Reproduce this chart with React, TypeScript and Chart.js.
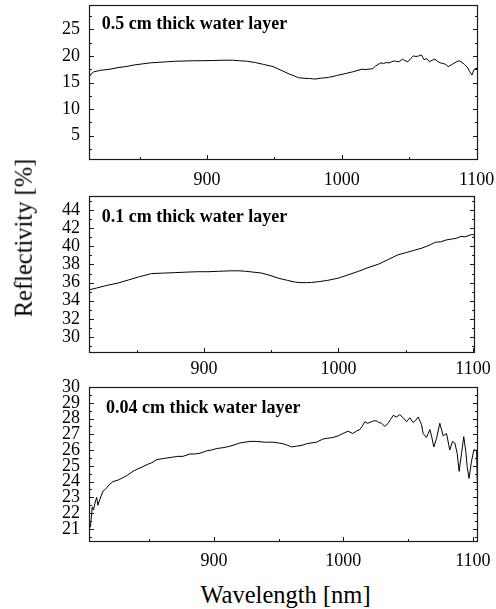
import React, { useEffect, useRef } from "react";
import { Chart, registerables } from "chart.js";
Chart.register(...registerables);

// ---------- data ----------
const panelLabels = ["0.5 cm thick water layer", "0.1 cm thick water layer", "0.04 cm thick water layer"];

const wl1 = [812.5, 814, 816, 821, 828, 834, 840, 846, 852, 858, 864, 870, 876, 883, 890, 895, 905, 912, 919, 924, 930, 936, 942, 949, 955, 961, 965, 968, 972, 976, 980, 984, 990, 996, 1003, 1008, 1012, 1015, 1018, 1021, 1023, 1025, 1027, 1029, 1031, 1033, 1035, 1037, 1039, 1041, 1043, 1045, 1047, 1049, 1051, 1053, 1055, 1057, 1059, 1061, 1063, 1065, 1067, 1069, 1071, 1073, 1075, 1077, 1079, 1081, 1083, 1085, 1087, 1089, 1091, 1093, 1095, 1096.5, 1098, 1099.5, 1101];
const refl1 = [16.0, 16.6, 17.0, 17.3, 17.5, 17.8, 18.0, 18.3, 18.5, 18.7, 18.8, 18.9, 19.0, 19.05, 19.1, 19.1, 19.15, 19.2, 19.2, 19.1, 19.0, 18.75, 18.4, 18.0, 17.3, 16.6, 16.2, 15.9, 15.8, 15.75, 15.65, 15.8, 15.95, 16.3, 16.7, 17.0, 17.3, 17.5, 17.45, 17.55, 17.6, 18.1, 18.4, 18.7, 18.6, 18.75, 18.7, 18.9, 19.1, 18.9, 19.0, 19.4, 19.1, 18.9, 19.5, 20.0, 19.9, 20.0, 20.2, 19.3, 19.5, 18.9, 19.2, 19.4, 19.0, 18.7, 18.6, 18.4, 18.0, 18.3, 18.6, 18.9, 19.1, 18.8, 18.4, 17.9, 17.0, 16.4, 17.4, 17.7, 17.4];

const wl2 = [814.5, 820, 828, 836, 844, 852, 861, 870, 878, 886, 895, 903, 911, 920, 926, 931, 937, 943, 949, 955, 962, 968, 972, 976, 980, 985, 992, 1000, 1007, 1015, 1022, 1030, 1037, 1044, 1050, 1056, 1062, 1068, 1072, 1076, 1080, 1084, 1088, 1091, 1094, 1097, 1099, 1101.5];
const refl2 = [35.2, 35.4, 35.7, 35.95, 36.3, 36.65, 37.0, 37.05, 37.1, 37.15, 37.2, 37.2, 37.25, 37.3, 37.3, 37.25, 37.15, 37.05, 36.8, 36.5, 36.25, 36.05, 36.0, 36.0, 36.02, 36.1, 36.25, 36.5, 36.85, 37.25, 37.65, 38.05, 38.55, 39.05, 39.3, 39.55, 39.8, 40.15, 40.45, 40.5, 40.7, 40.8, 40.9, 41.1, 41.05, 41.2, 41.3, 41.25];

const wl3 = [804.5, 805.2, 806, 807, 808, 809.4, 810.4, 812, 814.3, 816, 817.1, 819, 822, 826, 829.7, 833, 837.5, 841, 845.2, 849, 852, 856, 860, 863.7, 868, 872, 876, 881.5, 885, 889.2, 894.4, 898, 902.3, 907, 910, 914.7, 920, 924, 927.8, 933, 939, 945.6, 950, 953.3, 957, 960, 963.9, 968, 971.6, 975, 979.3, 984.2, 988, 991.9, 996, 999.6, 1003.5, 1007.3, 1010, 1012.7, 1014.5, 1016.6, 1018.5, 1020.5, 1023, 1025.6, 1027.5, 1029.5, 1032, 1034.6, 1036.5, 1038.5, 1041.1, 1043.6, 1046.2, 1048.8, 1051.4, 1053.9, 1056, 1057.8, 1060.4, 1061.6, 1064.2, 1066.8, 1068.1, 1069.9, 1072, 1074.5, 1077.1, 1079.7, 1082.2, 1084.3, 1086.1, 1087.9, 1089.4, 1091.3, 1093, 1094.6, 1095.6, 1097.1, 1099, 1100.8, 1102.9, 1103.3, 1103.6, 1104];
const refl3 = [21.1, 21.6, 22.4, 22.2, 22.6, 23.0, 22.5, 22.9, 23.4, 23.5, 23.6, 23.8, 24.0, 24.1, 24.25, 24.4, 24.65, 24.8, 24.95, 25.1, 25.2, 25.4, 25.45, 25.5, 25.55, 25.6, 25.6, 25.75, 25.75, 25.8, 25.95, 26.0, 26.1, 26.15, 26.2, 26.3, 26.45, 26.5, 26.55, 26.55, 26.5, 26.5, 26.45, 26.4, 26.3, 26.2, 26.25, 26.3, 26.4, 26.45, 26.5, 26.7, 26.75, 26.8, 26.9, 27.05, 27.2, 27.05, 27.2, 27.3, 27.5, 27.8, 27.7, 27.75, 27.85, 27.85, 27.75, 27.7, 27.5, 27.7, 27.95, 28.2, 28.1, 28.25, 28.05, 27.8, 28.05, 27.75, 27.9, 28.1, 27.6, 27.05, 26.8, 27.3, 26.9, 26.2, 26.75, 27.7, 26.9, 27.05, 26.0, 26.55, 26.45, 25.8, 24.65, 25.8, 26.85, 25.9, 24.95, 24.2, 25.3, 26.0, 26.0, 24.65, 23.5, 22.2];

const xTicks = [900, 1000, 1100];
const xMinor = [850, 950, 1050];
const yTicks1 = [5, 10, 15, 20, 25];
const yMinor1 = [2.5, 7.5, 12.5, 17.5, 22.5, 27.5];
const yTicks2 = [30, 32, 34, 36, 38, 40, 42, 44];
const yMinor2 = [29, 31, 33, 35, 37, 39, 41, 43, 45];
const yTicks3 = [21, 22, 23, 24, 25, 26, 27, 28, 29, 30];
const yMinor3 = [20.5, 21.5, 22.5, 23.5, 24.5, 25.5, 26.5, 27.5, 28.5, 29.5];

const SERIF = '"Liberation Serif", "Times New Roman", serif';

// ---------- layout ----------
const panels = [
  { wl: wl1, r: refl1, yT: yTicks1, yM: yMinor1, label: panelLabels[0], xMin: 812.5, xMax: 1101, yMin: 0.4, yMax: 29.6,
    top: 0, h: 192, areaTop: 5, areaBottom: 160, areaRight: 478, xPad: 9, dx: 12.7, dy: 24.3 },
  { wl: wl2, r: refl2, yT: yTicks2, yM: yMinor2, label: panelLabels[1], xMin: 814.5, xMax: 1101.5, yMin: 28.24, yMax: 45.55,
    top: 192, h: 186, areaTop: 196, areaBottom: 353, areaRight: 475, xPad: 5, dx: 12.7, dy: 26.3 },
  { wl: wl3, r: refl3, yT: yTicks3, yM: yMinor3, label: panelLabels[2], xMin: 803.5, xMax: 1104, yMin: 20.17, yMax: 30,
    top: 378, h: 197, areaTop: 387, areaBottom: 542, areaRight: 478, xPad: 8, dx: 17, dy: 25.7 },
];
const AREA_LEFT = 89;

const framePlugin = {
  id: "frame",
  afterDatasetsDraw(chart: any, _args: any, opts: any) {
    const { ctx, chartArea: a, scales } = chart;
    const xs = scales.x, ys = scales.y;
    ctx.save();
    ctx.strokeStyle = "#1a1a1a";
    ctx.lineWidth = 1.2;
    ctx.strokeRect(a.left + 0.5, a.top + 0.5, a.right - a.left - 1, a.bottom - a.top - 1);
    ctx.lineWidth = 1;
    ctx.beginPath();
    const yTick = (v: number, len: number) => {
      const p = Math.round(ys.getPixelForValue(v)) + 0.5;
      ctx.moveTo(a.left, p); ctx.lineTo(a.left + len, p);
      ctx.moveTo(a.right, p); ctx.lineTo(a.right - len, p);
    };
    const xTick = (v: number, len: number) => {
      const p = Math.round(xs.getPixelForValue(v)) + 0.5;
      ctx.moveTo(p, a.bottom); ctx.lineTo(p, a.bottom - len);
    };
    opts.yMajor.forEach((v: number) => yTick(v, 5));
    opts.yMinor.forEach((v: number) => yTick(v, 3));
    xTicks.forEach((v) => xTick(v, 5));
    xMinor.forEach((v) => xTick(v, 3));
    ctx.stroke();
    ctx.font = `bold 18px ${SERIF}`;
    ctx.fillStyle = "#000";
    ctx.textBaseline = "alphabetic";
    ctx.textAlign = "left";
    ctx.fillText(opts.text, a.left + opts.dx, a.top + opts.dy);
    ctx.restore();
  },
};

function Panel({ p }: { p: any }) {
  const ref = useRef<HTMLCanvasElement | null>(null);
  useEffect(() => {
    const canvas = ref.current!;
    const chart = new Chart(canvas, {
      type: "scatter",
      data: {
        datasets: [
          {
            data: p.wl.map((w: number, i: number) => ({ x: w, y: p.r[i] })),
            borderColor: "#000",
            borderWidth: 1,
            pointRadius: 0,
            showLine: true,
            tension: 0,
          },
        ],
      },
      options: {
        animation: false,
        responsive: false,
        devicePixelRatio: 1,
        events: [],
        layout: { padding: { top: p.areaTop - p.top, right: 496 - p.areaRight, left: 0, bottom: 0 } },
        plugins: {
          legend: { display: false },
          tooltip: { enabled: false },
          frame: { yMajor: p.yT, yMinor: p.yM, text: p.label, dx: p.dx, dy: p.dy },
        } as any,
        scales: {
          x: {
            type: "linear",
            min: p.xMin,
            max: p.xMax,
            grid: { display: false, drawTicks: false },
            border: { display: false },
            ticks: {
              autoSkip: false,
              maxRotation: 0,
              padding: p.xPad,
              color: "#000",
              font: { family: SERIF, size: 18 },
              callback: (v: any) => String(v),
            },
            afterBuildTicks: (s: any) => {
              s.ticks = xTicks.map((v) => ({ value: v }));
            },
            afterFit: (s: any) => {
              s.height = p.top + p.h - p.areaBottom;
              s.paddingLeft = 0;
              s.paddingRight = 0;
            },
          },
          y: {
            type: "linear",
            min: p.yMin,
            max: p.yMax,
            grid: { display: false, drawTicks: false },
            border: { display: false },
            ticks: {
              autoSkip: false,
              padding: 9,
              color: "#000",
              font: { family: SERIF, size: 18 },
              callback: (v: any) => String(v),
            },
            afterBuildTicks: (s: any) => {
              s.ticks = p.yT.map((v: number) => ({ value: v }));
            },
            afterFit: (s: any) => {
              s.width = AREA_LEFT;
              s.paddingTop = 0;
              s.paddingBottom = 0;
            },
          },
        },
      },
      plugins: [framePlugin as any],
    });
    return () => chart.destroy();
  }, []);
  return (
    <canvas
      ref={ref}
      width={496}
      height={p.h}
      style={{ position: "absolute", left: 0, top: p.top, width: 496, height: p.h }}
    />
  );
}

export default function App() {
  return (
    <div style={{ position: "absolute", left: 0, top: 0, width: 496, height: 609, background: "#fff", overflow: "hidden" }}>
      {panels.map((p, i) => (
        <Panel key={i} p={p} />
      ))}
      <div
        style={{
          position: "absolute",
          left: 23.5,
          top: 237.5,
          transform: "translate(-50%, -50%) rotate(-90deg)",
          fontFamily: SERIF,
          fontSize: 24.5,
          lineHeight: 1,
          whiteSpace: "nowrap",
          color: "#000",
        }}
      >
        Reflectivity [%]
      </div>
      <div
        style={{
          position: "absolute",
          left: 285.5,
          top: 595,
          transform: "translate(-50%, -50%)",
          fontFamily: SERIF,
          fontSize: 24.5,
          lineHeight: 1,
          whiteSpace: "nowrap",
          color: "#000",
        }}
      >
        Wavelength [nm]
      </div>
    </div>
  );
}
